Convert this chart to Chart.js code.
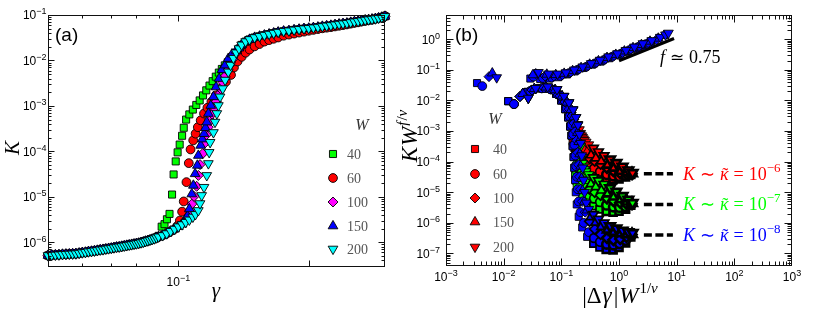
<!DOCTYPE html>
<html><head><meta charset="utf-8">
<script src="https://cdn.jsdelivr.net/npm/chart.js@4.4.1/dist/chart.umd.min.js"></script>
<style>
html,body{margin:0;padding:0;background:#fff;width:830px;height:317px;overflow:hidden}
#ca{position:absolute;left:0;top:0}
#cb{position:absolute;left:395px;top:0}
</style></head><body>
<canvas id="ca" width="395" height="317"></canvas>
<canvas id="cb" width="435" height="317"></canvas>
<script>
// ================= DATA =================
const seriesW = ['40', '60', '100', '150', '200'];

// ---- panel (a): K vs gamma ----
const gammaLow = [0.050,0.051,0.052,0.053,0.054,0.055,0.056,0.057,0.058,0.059,0.060,0.061,0.062,0.063,0.064,0.065,0.066,0.067,0.068,0.069,0.070,0.071,0.072,0.073,0.074,0.075,0.076,0.077,0.078,0.079,0.080,0.081,0.082,0.083,0.084,0.085,0.086,0.087,0.088,0.089];
const kLow = [5.1e-7,5.2e-7,5.25e-7,5.3e-7,5.4e-7,5.45e-7,5.5e-7,5.55e-7,5.6e-7,5.75e-7,5.9e-7,6.0e-7,6.2e-7,6.3e-7,6.45e-7,6.6e-7,6.8e-7,6.9e-7,7.1e-7,7.25e-7,7.4e-7,7.6e-7,7.8e-7,7.9e-7,8.1e-7,8.3e-7,8.5e-7,8.7e-7,8.9e-7,9.1e-7,9.3e-7,9.5e-7,9.8e-7,1.01e-6,1.05e-6,1.08e-6,1.12e-6,1.16e-6,1.2e-6,1.26e-6];
const gammaUp = [0.140,0.143,0.146,0.150,0.154,0.158,0.162,0.166,0.170,0.175,0.180,0.185,0.190,0.195,0.200,0.205,0.210,0.215,0.220,0.225,0.230,0.235,0.240,0.245,0.250,0.255,0.260,0.265,0.270,0.275,0.280,0.285,0.290,0.295,0.300];
const kUp = [2.2e-2,2.6e-2,2.9e-2,3.2e-2,3.4e-2,3.6e-2,3.8e-2,4.0e-2,4.2e-2,4.4e-2,4.5e-2,4.7e-2,4.85e-2,5.0e-2,5.1e-2,5.25e-2,5.4e-2,5.6e-2,5.75e-2,5.9e-2,6.1e-2,6.3e-2,6.45e-2,6.6e-2,6.85e-2,7.1e-2,7.25e-2,7.5e-2,7.75e-2,7.9e-2,8.1e-2,8.3e-2,8.6e-2,8.9e-2,9.3e-2];

const gammaW40 = [0.090,0.0915,0.0929,0.0941,0.0954,0.0967,0.0975,0.0986,0.0996,0.1007,0.102,0.1029,0.1042,0.106,0.108,0.110,0.112,0.114,0.116,0.118,0.120,0.122,0.124,0.126,0.128,0.130,0.132,0.134,0.136,0.138];
const kW40 = [1.38e-6,2.2e-6,2.5e-6,3.2e-6,4.2e-6,1.12e-5,3.1e-5,6.0e-5,9.5e-5,1.41e-4,2.2e-4,3.3e-4,5.0e-4,6.5e-4,8.3e-4,1.05e-3,1.32e-3,1.7e-3,2.2e-3,2.8e-3,3.5e-3,4.4e-3,5.4e-3,6.5e-3,7.8e-3,9.1e-3,1.07e-2,1.26e-2,1.48e-2,1.74e-2];

const gammaW60 = [0.090,0.092,0.094,0.096,0.098,0.0995,0.1008,0.102,0.1029,0.1044,0.1057,0.1067,0.1082,0.1096,0.1109,0.1126,0.1146,0.1167,0.1192,0.122,0.1253,0.1288,0.1323,0.1344];
const kW60 = [1.32e-6,1.41e-6,1.55e-6,1.74e-6,1.95e-6,2.3e-6,3.0e-6,4.7e-6,7.9e-6,2.1e-5,5.5e-5,1.1e-4,1.74e-4,2.45e-4,3.4e-4,4.8e-4,6.8e-4,9.1e-4,1.23e-3,1.7e-3,2.4e-3,3.4e-3,4.8e-3,7.0e-3];
const gammaUpW60 = [0.137,0.140,0.143,0.146,0.150,0.154,0.158,0.162,0.166,0.170,0.175,0.180,0.185,0.190,0.195,0.200,0.205,0.210,0.215,0.220,0.225,0.230,0.235,0.240,0.245,0.250,0.255,0.260,0.265,0.270,0.275,0.280,0.285,0.290,0.295,0.300,0.303];
const kUpW60 = [9.5e-3,1.2e-2,1.48e-2,1.74e-2,2.04e-2,2.3e-2,2.6e-2,2.8e-2,3.0e-2,3.2e-2,3.5e-2,3.7e-2,3.9e-2,4.1e-2,4.3e-2,4.5e-2,4.7e-2,4.9e-2,5.1e-2,5.25e-2,5.4e-2,5.6e-2,5.8e-2,6.0e-2,6.2e-2,6.45e-2,6.7e-2,6.9e-2,7.2e-2,7.4e-2,7.7e-2,7.9e-2,8.2e-2,8.5e-2,8.9e-2,9.5e-2,1.0e-1];

const gammaW100 = [0.090,0.092,0.094,0.096,0.098,0.100,0.102,0.104,0.1055,0.1065,0.1074,0.1087,0.1102,0.1112,0.1122,0.1138,0.1148,0.116,0.1172,0.1185,0.1197,0.121,0.1224,0.1238,0.1252,0.1267,0.1282,0.1298,0.1315,0.1335,0.136,0.138];
const kW100 = [1.32e-6,1.41e-6,1.55e-6,1.74e-6,1.95e-6,2.2e-6,2.5e-6,3.0e-6,3.8e-6,5.0e-6,6.9e-6,1.02e-5,1.7e-5,2.95e-5,5.1e-5,8.9e-5,1.48e-4,2.3e-4,3.4e-4,4.8e-4,6.6e-4,9.1e-4,1.26e-3,1.74e-3,2.4e-3,3.3e-3,4.5e-3,6.0e-3,7.9e-3,1.07e-2,1.45e-2,1.78e-2];

const gammaW150 = [0.090,0.092,0.094,0.096,0.098,0.100,0.102,0.1035,0.105,0.106,0.1074,0.1083,0.1093,0.1106,0.1112,0.1126,0.1136,0.1146,0.1155,0.1163,0.1173,0.1188,0.1205,0.1222,0.1242,0.126,0.1282,0.1304,0.133,0.136,0.138];
const kW150 = [1.32e-6,1.41e-6,1.55e-6,1.74e-6,1.95e-6,2.2e-6,2.5e-6,3.0e-6,3.8e-6,5.4e-6,1.15e-5,1.78e-5,3.2e-5,4.9e-5,8.1e-5,1.35e-4,1.86e-4,2.45e-4,3.3e-4,4.4e-4,6.8e-4,1.02e-3,1.58e-3,2.6e-3,4.0e-3,6.2e-3,7.9e-3,1.1e-2,1.38e-2,1.66e-2,1.86e-2];

const gammaW200 = [0.090,0.092,0.094,0.096,0.098,0.100,0.102,0.104,0.106,0.108,0.1095,0.1112,0.1122,0.1132,0.1146,0.1163,0.1173,0.1178,0.1184,0.1205,0.1215,0.1227,0.1237,0.1248,0.1266,0.1282,0.1304,0.132,0.134,0.136,0.138];
const kW200 = [1.32e-6,1.41e-6,1.55e-6,1.74e-6,1.95e-6,2.2e-6,2.45e-6,2.75e-6,3.1e-6,3.6e-6,4.1e-6,5.0e-6,7.1e-6,1.07e-5,1.62e-5,2.95e-5,5.4e-5,9.5e-5,1.58e-4,2.6e-4,4.4e-4,6.8e-4,1.02e-3,1.58e-3,2.4e-3,3.7e-3,5.6e-3,7.9e-3,1.12e-2,1.48e-2,1.82e-2];

// ---- panel (b): scaled K W^{f/nu} vs |dgamma| W^{1/nu} ----
// gamma > gamma_c branch
const xUpW40 = [0.00345,0.029,0.043,0.062,0.088,0.125,0.17,0.24,0.34,0.48,0.68,0.95,1.35,1.9,2.5];
const yUpW40 = [3.7e-2,5.2e-2,5.0e-2,5.2e-2,5.75e-2,7.1e-2,8.9e-2,0.115,0.148,0.186,0.24,0.30,0.39,0.49,0.59];
const xUpW60 = [0.00426,0.033,0.048,0.068,0.096,0.135,0.19,0.27,0.38,0.54,0.76,1.08,1.5,2.1,2.9,3.5];
const yUpW60 = [2.95e-2,6.0e-2,5.4e-2,5.6e-2,6.3e-2,7.8e-2,0.10,0.126,0.162,0.209,0.269,0.339,0.437,0.55,0.69,0.79];
const xUpW100 = [0.00557,0.036,0.052,0.074,0.104,0.146,0.205,0.29,0.41,0.58,0.82,1.15,1.6,2.25,3.2,4.5];
const yUpW100 = [6.0e-2,7.6e-2,6.3e-2,6.3e-2,6.9e-2,8.5e-2,0.107,0.138,0.178,0.229,0.295,0.372,0.479,0.603,0.776,0.977];
const xUpW150 = [0.00635,0.032,0.056,0.08,0.112,0.157,0.22,0.31,0.44,0.62,0.88,1.24,1.75,2.45,3.45,4.8,6.0];
const yUpW150 = [7.8e-2,6.8e-2,7.1e-2,6.9e-2,7.6e-2,9.3e-2,0.117,0.151,0.195,0.251,0.316,0.407,0.525,0.661,0.851,1.07,1.3];
const xUpW200 = [0.00757,0.04,0.06,0.086,0.12,0.168,0.235,0.33,0.47,0.66,0.94,1.32,1.85,2.6,3.7,5.2,6.4,7.2];
const yUpW200 = [5.6e-2,8.3e-2,7.4e-2,7.4e-2,8.1e-2,0.10,0.126,0.162,0.209,0.269,0.339,0.437,0.562,0.724,0.912,1.17,1.4,1.6];

// gamma < gamma_c branch, for kappa = 1e-6 (k6), 1e-7 (k7), 1e-8 (k8)
const xW40 = [0.012,0.026,0.042,0.061,0.081,0.099,0.117,0.131,0.142,0.150,0.157,0.163,0.168,0.173,0.178,0.185,0.2,0.23,0.28,0.36,0.46,0.6,0.79,1.0,1.3,1.6];
const yW40k8 = [9.5e-3,1.9e-2,2.5e-2,2.4e-2,1.66e-2,1.0e-2,5.2e-3,2.8e-3,1.41e-3,7.1e-4,3.2e-4,1.41e-4,6.3e-5,2.5e-5,1.0e-5,4.0e-6,1.58e-6,7.1e-7,3.5e-7,2.1e-7,1.58e-7,1.35e-7,1.32e-7,1.58e-7,2.2e-7,3.5e-7];
const yW40k6 = [9.5e-3,1.9e-2,2.5e-2,2.4e-2,1.66e-2,1.0e-2,5.2e-3,2.8e-3,1.41e-3,7.1e-4,4.5e-4,3.3e-4,2.75e-4,2.4e-4,2.15e-4,1.86e-4,1.51e-4,1.05e-4,7.6e-5,5.0e-5,3.55e-5,2.8e-5,2.6e-5,2.75e-5,3.2e-5,3.8e-5];
const yW40k7 = [9.5e-3,1.9e-2,2.5e-2,2.4e-2,1.66e-2,1.0e-2,5.2e-3,2.8e-3,1.41e-3,7.1e-4,3.2e-4,1.41e-4,6.3e-5,3.55e-5,2.4e-5,1.66e-5,1.12e-5,7.6e-6,5.0e-6,3.55e-6,2.75e-6,2.35e-6,2.24e-6,2.4e-6,2.8e-6,3.8e-6];

const xW60 = [0.0151,0.029,0.046,0.066,0.087,0.106,0.124,0.139,0.150,0.160,0.168,0.175,0.181,0.187,0.193,0.2,0.215,0.245,0.3,0.37,0.47,0.61,0.8,1.02,1.3,1.62];
const yW60k8 = [7.6e-3,2.0e-2,2.5e-2,2.3e-2,1.58e-2,1.0e-2,5.6e-3,3.0e-3,1.58e-3,7.9e-4,3.55e-4,1.58e-4,7.1e-5,3.2e-5,1.26e-5,5.0e-6,2.24e-6,1.0e-6,5.0e-7,3.2e-7,2.4e-7,2.0e-7,1.9e-7,2.1e-7,2.7e-7,3.8e-7];
const yW60k6 = [7.6e-3,2.0e-2,2.5e-2,2.3e-2,1.58e-2,1.0e-2,5.6e-3,3.0e-3,1.58e-3,7.9e-4,5.0e-4,3.55e-4,2.8e-4,2.4e-4,2.1e-4,1.82e-4,1.45e-4,1.1e-4,7.9e-5,6.0e-5,4.7e-5,3.8e-5,3.4e-5,3.3e-5,3.5e-5,3.9e-5];
const yW60k7 = [7.6e-3,2.0e-2,2.5e-2,2.3e-2,1.58e-2,1.0e-2,5.6e-3,3.0e-3,1.58e-3,7.9e-4,3.55e-4,1.58e-4,7.9e-5,4.8e-5,3.3e-5,2.5e-5,1.78e-5,1.2e-5,8.3e-6,6.3e-6,4.8e-6,3.8e-6,3.3e-6,3.2e-6,3.4e-6,4.0e-6];

const xW100 = [0.0192,0.031,0.05,0.072,0.095,0.116,0.137,0.153,0.166,0.176,0.185,0.193,0.2,0.207,0.215,0.23,0.26,0.31,0.38,0.48,0.62,0.8,1.05,1.35,1.65];
const yW100k8 = [1.35e-2,2.2e-2,2.6e-2,2.2e-2,1.41e-2,8.9e-3,5.2e-3,3.1e-3,1.82e-3,1.0e-3,5.0e-4,2.0e-4,7.9e-5,3.2e-5,1.26e-5,5.0e-6,2.24e-6,1.12e-6,6.3e-7,4.2e-7,3.2e-7,2.8e-7,3.0e-7,3.5e-7,4.2e-7];
const yW100k6 = [1.35e-2,2.2e-2,2.6e-2,2.2e-2,1.41e-2,8.9e-3,5.2e-3,3.1e-3,1.82e-3,1.0e-3,6.3e-4,4.4e-4,3.3e-4,2.7e-4,2.3e-4,1.9e-4,1.58e-4,1.26e-4,1.05e-4,8.3e-5,6.3e-5,5.0e-5,4.2e-5,3.9e-5,4.0e-5];
const yW100k7 = [1.35e-2,2.2e-2,2.6e-2,2.2e-2,1.41e-2,8.9e-3,5.2e-3,3.1e-3,1.82e-3,1.0e-3,5.0e-4,2.0e-4,8.9e-5,5.0e-5,3.3e-5,2.3e-5,1.66e-5,1.26e-5,1.0e-5,7.9e-6,6.3e-6,5.2e-6,4.6e-6,4.2e-6,4.2e-6];

const xW150 = [0.0214,0.034,0.054,0.078,0.103,0.125,0.148,0.165,0.179,0.19,0.2,0.208,0.216,0.224,0.233,0.25,0.28,0.33,0.4,0.5,0.64,0.82,1.08,1.38,1.68];
const yW150k8 = [1.66e-2,2.4e-2,2.7e-2,2.2e-2,1.38e-2,8.7e-3,5.0e-3,2.9e-3,1.66e-3,8.9e-4,4.5e-4,1.78e-4,7.1e-5,2.8e-5,1.12e-5,5.0e-6,2.6e-6,1.58e-6,1.05e-6,7.6e-7,6.0e-7,5.0e-7,4.5e-7,4.2e-7,4.3e-7];
const yW150k6 = [1.66e-2,2.4e-2,2.7e-2,2.2e-2,1.38e-2,8.7e-3,5.0e-3,2.9e-3,1.66e-3,1.0e-3,6.6e-4,5.0e-4,4.0e-4,3.4e-4,2.95e-4,2.5e-4,2.1e-4,1.66e-4,1.32e-4,1.05e-4,7.9e-5,6.3e-5,5.0e-5,4.4e-5,4.1e-5];
const yW150k7 = [1.66e-2,2.4e-2,2.7e-2,2.2e-2,1.38e-2,8.7e-3,5.0e-3,2.9e-3,1.66e-3,8.9e-4,4.5e-4,1.78e-4,8.9e-5,5.6e-5,4.0e-5,3.0e-5,2.4e-5,1.9e-5,1.51e-5,1.17e-5,9.1e-6,7.2e-6,5.8e-6,4.9e-6,4.4e-6];

const xW200 = [0.0267,0.036,0.058,0.084,0.111,0.136,0.16,0.179,0.194,0.206,0.217,0.226,0.234,0.243,0.253,0.27,0.3,0.36,0.44,0.55,0.7,0.9,1.15,1.45,1.72];
const yW200k8 = [1.2e-2,2.5e-2,2.8e-2,2.3e-2,1.38e-2,8.5e-3,5.0e-3,2.8e-3,1.58e-3,7.9e-4,4.0e-4,1.58e-4,6.3e-5,2.5e-5,1.0e-5,4.5e-6,2.8e-6,1.9e-6,1.32e-6,1.0e-6,7.9e-7,6.6e-7,5.6e-7,5.0e-7,4.7e-7];
const yW200k6 = [1.2e-2,2.5e-2,2.8e-2,2.3e-2,1.38e-2,8.5e-3,5.0e-3,2.8e-3,1.66e-3,1.12e-3,8.5e-4,7.1e-4,6.3e-4,5.6e-4,5.0e-4,4.4e-4,3.6e-4,2.75e-4,2.1e-4,1.58e-4,1.2e-4,9.1e-5,6.9e-5,5.2e-5,4.3e-5];
const yW200k7 = [1.2e-2,2.5e-2,2.8e-2,2.3e-2,1.38e-2,8.5e-3,5.0e-3,2.8e-3,1.58e-3,7.9e-4,3.2e-4,1.41e-4,8.9e-5,6.8e-5,5.6e-5,4.7e-5,3.8e-5,3.0e-5,2.4e-5,1.82e-5,1.38e-5,1.05e-5,7.6e-6,5.8e-6,4.5e-6];

// guide lines in panel (b)
const slopeX = [1.0, 9.0];
const slopeY = [0.2, 1.05];
const plateauX = [2.7, 8.6];
const plateauLevels = [4e-5, 4e-6, 4e-7];
const plateauExp = ['−6', '−7', '−8'];

// axis tick values
const xMajorA = [0.1, 0.2], xMinorA = [0.06, 0.07, 0.08, 0.09];
const yExpA = [-6, -5, -4, -3, -2, -1];
const xExpB = [-3, -2, -1, 0, 1, 2, 3];
const yExpB = [-7, -6, -5, -4, -3, -2, -1, 0];

// ================= STYLE / HELPERS =================
const SERIF = '"Liberation Serif","Times New Roman",serif';
const SANS = '"Liberation Sans",Arial,Helvetica,sans-serif';
const COL = {g:'#00ff00', r:'#ff0000', m:'#ff00ff', b:'#0000ff', c:'#00ffff'};
const SHAPES = [
  {style:'rect', rot:0, r:5},
  {style:'circle', rot:0, r:4.4},
  {style:'rectRot', rot:0, r:5},
  {style:'triangle', rot:0, r:5.6},
  {style:'triangle', rot:180, r:5.6}
];
const pts = (xs, ys) => xs.map((x, i) => ({x: x, y: ys[i]}));
const fmtExp = e => (e < 0 ? '−' + (-e) : String(e));

function scat(data, shape, color, order, bw) {
  return {data: data, pointStyle: shape.style, pointRotation: shape.rot, pointRadius: shape.r,
    pointHoverRadius: shape.r, pointBackgroundColor: color, pointBorderColor: '#000',
    pointBorderWidth: bw || 0.9, showLine: false, clip: false, order: order};
}
// darker outlines toward the plateau tips, where the original markers pile up densely
const fanBorder = c => (c.raw && c.raw.x > 0.55 ? 2.6 : (c.raw && c.raw.x > 0.3 ? 1.7 : 0.9));

function marker(ctx, shape, x, y, fill) {
  const r = shape.r;
  ctx.save(); ctx.fillStyle = fill; ctx.strokeStyle = '#000'; ctx.lineWidth = 0.9;
  ctx.beginPath();
  if (shape.style === 'circle') ctx.arc(x, y, r, 0, 2 * Math.PI);
  else if (shape.style === 'rect') { const s = r * Math.SQRT1_2; ctx.rect(x - s, y - s, 2 * s, 2 * s); }
  else if (shape.style === 'rectRot') { ctx.moveTo(x - r, y); ctx.lineTo(x, y - r); ctx.lineTo(x + r, y); ctx.lineTo(x, y + r); ctx.closePath(); }
  else { let a = shape.rot * Math.PI / 180; for (let k = 0; k < 3; k++) { const px = x + Math.sin(a) * r, py = y - Math.cos(a) * r; if (k) ctx.lineTo(px, py); else ctx.moveTo(px, py); a += 2 * Math.PI / 3; } ctx.closePath(); }
  ctx.fill(); ctx.stroke(); ctx.restore();
}
function fontOf(r) { return (r.i ? 'italic ' : '') + r.s + 'px ' + (r.f || SERIF); }
function drawMath(ctx, runs, x, y, align, color) {
  ctx.save(); ctx.fillStyle = color || '#000'; ctx.textAlign = 'left'; ctx.textBaseline = 'alphabetic';
  let w = 0;
  for (const r of runs) { ctx.font = fontOf(r); w += ctx.measureText(r.t).width + (r.g || 0); }
  let cx = align === 'center' ? x - w / 2 : (align === 'right' ? x - w : x);
  for (const r of runs) {
    ctx.font = fontOf(r);
    const tw = ctx.measureText(r.t).width;
    ctx.fillText(r.t, cx, y + (r.dy || 0));
    if (r.acc) {
      ctx.font = r.s + 'px ' + SERIF;
      const aw = ctx.measureText(r.acc).width;
      ctx.fillText(r.acc, cx + tw / 2 - aw / 2 + 1, y + (r.dy || 0) + 1);
    }
    cx += tw + (r.g || 0);
  }
  ctx.restore();
}
function supLabel(ctx, exp, x, yc, align, fs) {
  const es = Math.round(fs * 0.72);
  const runs = [{t:'10', s:fs, f:SANS}, {t:fmtExp(exp), s:es, f:SANS, dy:-fs * 0.42}];
  drawMath(ctx, runs, x, yc + fs * 0.36, align, '#000');
}
function line(ctx, x1, y1, x2, y2) { ctx.beginPath(); ctx.moveTo(x1, y1); ctx.lineTo(x2, y2); ctx.stroke(); }
function frameAndTicks(chart, xMaj, xMin, yMaj, yMin, maj, mnr) {
  const ctx = chart.ctx, a = chart.chartArea, xs = chart.scales.x, ys = chart.scales.y;
  ctx.save(); ctx.strokeStyle = '#111'; ctx.lineWidth = 1;
  const L = Math.round(a.left) + 0.5, R = Math.round(a.right) - 0.5, T = Math.round(a.top) + 0.5, B = Math.round(a.bottom) - 0.5;
  ctx.strokeRect(L, T, R - L, B - T);
  const doX = (v, len) => { const p = Math.round(xs.getPixelForValue(v)) + 0.5; if (p <= L + 1 || p >= R - 1) return; line(ctx, p, B, p, B - len); line(ctx, p, T, p, T + len); };
  const doY = (v, len) => { const p = Math.round(ys.getPixelForValue(v)) + 0.5; if (p <= T + 1 || p >= B - 1) return; line(ctx, L, p, L + len, p); line(ctx, R, p, R - len, p); };
  xMaj.forEach(v => doX(v, maj)); xMin.forEach(v => doX(v, mnr));
  yMaj.forEach(v => doY(v, maj)); yMin.forEach(v => doY(v, mnr));
  ctx.restore();
}
function minorsOf(e0, e1) { const out = []; for (let e = e0; e <= e1; e++) for (let m = 2; m <= 9; m++) out.push(m * Math.pow(10, e)); return out; }

// ================= PANEL (a) =================
const orderA = [4, 3, 2, 1, 0];
const colA = [COL.g, COL.r, COL.m, COL.b, COL.c];
const dataA = [
  pts(gammaLow.concat(gammaW40, gammaUp), kLow.concat(kW40, kUp)),
  pts(gammaLow.concat(gammaW60, gammaUpW60), kLow.concat(kW60, kUpW60)),
  pts(gammaLow.concat(gammaW100, gammaUp), kLow.concat(kW100, kUp)),
  pts(gammaLow.concat(gammaW150, gammaUp), kLow.concat(kW150, kUp)),
  pts(gammaLow.concat(gammaW200, gammaUp), kLow.concat(kW200, kUp))
];
const dsA = dataA.map((d, i) => Object.assign(scat(d, SHAPES[i], colA[i], orderA[i]), {label: 'W=' + seriesW[i]}));

const pluginA = {
  id: 'decorA',
  afterDatasetsDraw(chart) {
    const ctx = chart.ctx, a = chart.chartArea, xs = chart.scales.x, ys = chart.scales.y;
    frameAndTicks(chart, xMajorA, xMinorA, yExpA.map(e => Math.pow(10, e)), minorsOf(-7, -2), 6, 3);
    yExpA.forEach(e => supLabel(ctx, e, a.left - 1.5, ys.getPixelForValue(Math.pow(10, e)), 'right', 12));
    supLabel(ctx, -1, xs.getPixelForValue(0.1), a.bottom + 15, 'center', 12);
    drawMath(ctx, [{t:'γ', s:21, i:true}], 216, 297, 'center');
    ctx.save(); ctx.translate(19, 148); ctx.rotate(-Math.PI / 2);
    drawMath(ctx, [{t:'K', s:21, i:true}], 0, 0, 'center'); ctx.restore();
    drawMath(ctx, [{t:'(a)', s:19, f:SANS}], 55, 41, 'left');
    drawMath(ctx, [{t:'W', s:16, i:true}], 362, 130, 'center', '#333');
    const ly = [154, 178, 202, 226, 249];
    seriesW.forEach((w, i) => {
      marker(ctx, SHAPES[i], 333, ly[i], colA[i]);
      drawMath(ctx, [{t:w, s:14}], 347, ly[i] + 5, 'left', '#555');
    });
  }
};

new Chart(document.getElementById('ca'), {
  type: 'scatter',
  data: {datasets: dsA},
  options: {
    responsive: false, animation: false, devicePixelRatio: 1, events: [],
    layout: {padding: {left: 48, right: 10, top: 15, bottom: 50}},
    plugins: {legend: {display: false}, tooltip: {enabled: false}},
    scales: {
      x: {type: 'logarithmic', min: 0.05, max: 0.3, display: false},
      y: {type: 'logarithmic', min: 2.85e-7, max: 0.1, display: false}
    }
  },
  plugins: [pluginA]
});

// ================= PANEL (b) =================
const upX = [xUpW40, xUpW60, xUpW100, xUpW150, xUpW200];
const upY = [yUpW40, yUpW60, yUpW100, yUpW150, yUpW200];
const loX = [xW40, xW60, xW100, xW150, xW200];
const loK6 = [yW40k6, yW60k6, yW100k6, yW150k6, yW200k6];
const loK7 = [yW40k7, yW60k7, yW100k7, yW150k7, yW200k7];
const loK8 = [yW40k8, yW60k8, yW100k8, yW150k8, yW200k8];
const dsB = [];
for (let i = 4; i >= 0; i--) dsB.push(scat(pts(upX[i], upY[i]), SHAPES[i], COL.b, 0));
for (let i = 4; i >= 0; i--) dsB.push(scat(pts(loX[i], loK8[i]), SHAPES[i], COL.b, 1, fanBorder));
for (let i = 4; i >= 0; i--) dsB.push(scat(pts(loX[i], loK7[i]), SHAPES[i], COL.g, 2, fanBorder));
for (let i = 4; i >= 0; i--) dsB.push(scat(pts(loX[i], loK6[i]), SHAPES[i], COL.r, 3, fanBorder));
dsB.push({data: pts(slopeX, slopeY), showLine: true, borderColor: '#000', borderWidth: 3.2, pointRadius: 0, order: 4, clip: false});
plateauLevels.forEach(lv => dsB.push({data: pts(plateauX, [lv, lv]), showLine: true, borderColor: '#000', borderWidth: 3.5, borderDash: [8, 3.5], pointRadius: 0, order: 4, clip: false}));

const pluginB = {
  id: 'decorB',
  afterDatasetsDraw(chart) {
    const ctx = chart.ctx, a = chart.chartArea, xs = chart.scales.x, ys = chart.scales.y;
    frameAndTicks(chart, xExpB.map(e => Math.pow(10, e)), minorsOf(-3, 2), yExpB.map(e => Math.pow(10, e)), minorsOf(-8, 0), 7, 4);
    yExpB.forEach(e => supLabel(ctx, e, a.left - 6, ys.getPixelForValue(Math.pow(10, e)), 'right', 12));
    xExpB.forEach(e => supLabel(ctx, e, xs.getPixelForValue(Math.pow(10, e)), a.bottom + 11, 'center', 12));
    drawMath(ctx, [{t:'|Δ', s:23, g:1}, {t:'γ', s:23, i:true, g:2}, {t:'|', s:23, g:1}, {t:'W', s:23, i:true, g:1}, {t:'1/', s:15, dy:-10}, {t:'ν', s:15, i:true, dy:-10}], 225, 303, 'center');
    ctx.save(); ctx.translate(22, 136); ctx.rotate(-Math.PI / 2);
    drawMath(ctx, [{t:'K', s:23, i:true, g:1}, {t:'W', s:23, i:true, g:1}, {t:'f', s:15, i:true, dy:-10, g:1}, {t:'/', s:15, dy:-10}, {t:'ν', s:15, i:true, dy:-10}], 0, 0, 'center');
    ctx.restore();
    drawMath(ctx, [{t:'(b)', s:19, f:SANS}], 60, 41, 'left');
    drawMath(ctx, [{t:'f', s:18, i:true, g:5}, {t:'≃', s:17, g:5}, {t:'0.75', s:18}], xs.getPixelForValue(slopeX[1]) - 14, 63, 'left');
    const colsP = [COL.r, COL.g, COL.b];
    plateauLevels.forEach((lv, i) => {
      const x0 = xs.getPixelForValue(plateauX[1]) + 10, y0 = ys.getPixelForValue(lv);
      drawMath(ctx, [{t:'K', s:18, i:true, g:5}, {t:'∼', s:18, g:5}, {t:'κ', s:18, i:true, g:5, acc:'˜'}, {t:'=', s:18, g:5}, {t:'10', s:18}, {t:plateauExp[i], s:13, dy:-8}], x0, y0 + 6, 'left', colsP[i]);
    });
    drawMath(ctx, [{t:'W', s:16, i:true}], 100, 124, 'center', '#333');
    const ly = [149, 174, 198, 222, 247];
    seriesW.forEach((w, i) => {
      marker(ctx, SHAPES[i], 80, ly[i], COL.r);
      drawMath(ctx, [{t:w, s:14}], 98, ly[i] + 5, 'left', '#555');
    });
  }
};

new Chart(document.getElementById('cb'), {
  type: 'scatter',
  data: {datasets: dsB},
  options: {
    responsive: false, animation: false, devicePixelRatio: 1, events: [],
    layout: {padding: {left: 51, right: 38, top: 15, bottom: 51}},
    plugins: {legend: {display: false}, tooltip: {enabled: false}},
    scales: {
      x: {type: 'logarithmic', min: 1e-3, max: 1e3, display: false},
      y: {type: 'logarithmic', min: 3.9e-8, max: 6.2, display: false}
    }
  },
  plugins: [pluginB]
});
</script>
</body></html>
